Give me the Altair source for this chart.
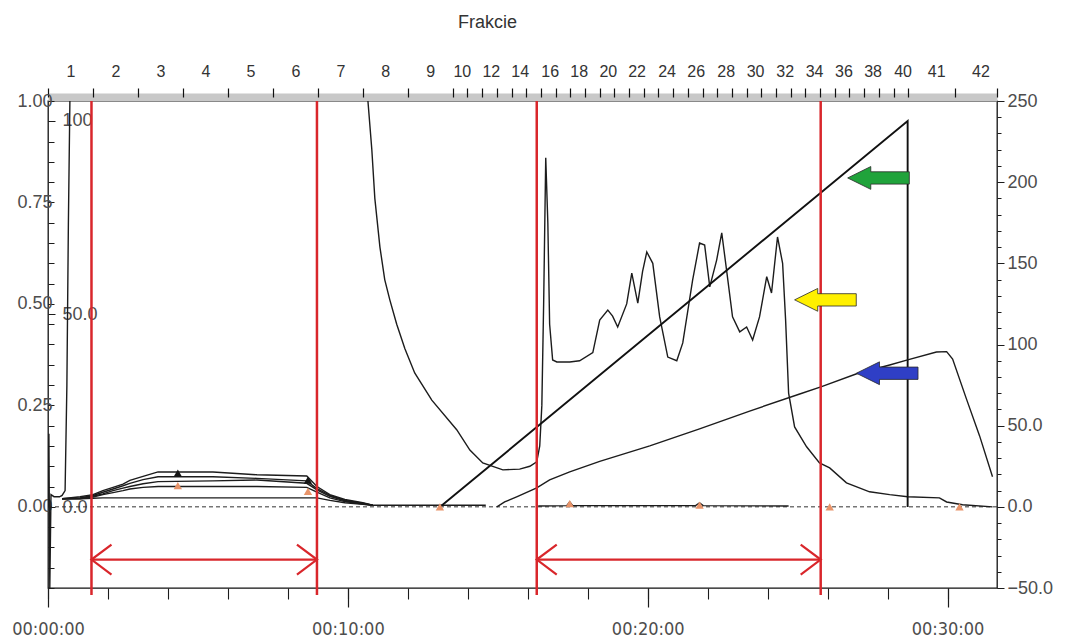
import altair as alt
import pandas as pd

# ---------------- data (time in minutes) ----------------
# main UV trace (left axis, AU)
uv_time = [0.40, 0.47, 0.57, 0.63, 0.68, 0.73, 0.77, 5.00, 10.60, 10.67,
           10.80, 10.90, 11.07, 11.23, 11.40, 11.63, 11.90, 12.23, 12.80, 13.63,
           14.07, 14.50, 15.17, 15.73, 16.07, 16.30, 16.40, 16.47, 16.53, 16.60,
           16.67, 16.73, 16.83, 16.97, 17.40, 17.73, 18.17, 18.40, 18.67, 18.83,
           19.00, 19.30, 19.47, 19.67, 19.83, 19.97, 20.17, 20.40, 20.67, 20.97,
           21.17, 21.50, 21.73, 21.90, 22.07, 22.30, 22.47, 22.63, 22.83, 23.07,
           23.30, 23.50, 23.73, 23.97, 24.13, 24.33, 24.50, 24.60, 24.70, 24.90,
           25.30, 25.73, 26.07, 26.63, 27.40, 28.07, 28.67, 29.73, 29.97, 30.50,
           31.50]
uv_abs = [0.025, 0.028, 0.040, 0.300, 0.700, 1.000, 1.150, 1.150, 1.150, 1.000,
          0.880, 0.760, 0.640, 0.560, 0.510, 0.450, 0.390, 0.330, 0.263, 0.190,
          0.140, 0.108, 0.091, 0.093, 0.100, 0.111, 0.150, 0.250, 0.500, 0.860,
          0.700, 0.450, 0.362, 0.357, 0.357, 0.360, 0.380, 0.460, 0.485, 0.470,
          0.443, 0.500, 0.576, 0.502, 0.580, 0.628, 0.600, 0.468, 0.369, 0.360,
          0.404, 0.559, 0.650, 0.645, 0.542, 0.608, 0.675, 0.584, 0.468, 0.431,
          0.443, 0.411, 0.468, 0.567, 0.527, 0.665, 0.600, 0.460, 0.280, 0.197,
          0.148, 0.108, 0.096, 0.059, 0.037, 0.030, 0.025, 0.022, 0.012, 0.005,
          0.000]

# injection spike at the very start
spike_time = [0.00, 0.03, 0.06, 0.10, 0.20, 0.40]
spike_abs = [0.00, 0.18, -0.20, 0.03, 0.025, 0.025]

# flow-through humps (several wavelengths)
hump_time = [0.47, 1.07, 1.50, 1.83, 2.17, 2.50, 2.73, 3.17, 3.67, 5.50,
             6.97, 8.63, 8.97, 9.40, 9.90, 10.50, 10.83]
hump_1 = [0.020, 0.025, 0.030, 0.040, 0.048, 0.056, 0.065, 0.075, 0.086, 0.086,
          0.079, 0.076, 0.050, 0.030, 0.018, 0.010, 0.004]
hump_2 = [0.020, 0.022, 0.028, 0.036, 0.044, 0.052, 0.058, 0.067, 0.074, 0.074,
          0.070, 0.064, 0.045, 0.028, 0.016, 0.009, 0.004]
hump_3 = [0.020, 0.021, 0.026, 0.032, 0.040, 0.046, 0.050, 0.057, 0.062, 0.064,
          0.066, 0.058, 0.042, 0.026, 0.015, 0.008, 0.004]
hump_4 = [0.020, 0.020, 0.024, 0.030, 0.035, 0.040, 0.044, 0.048, 0.050, 0.050,
          0.050, 0.048, 0.036, 0.022, 0.013, 0.007, 0.004]
hump_5 = [0.020, 0.020, 0.021, 0.022, 0.022, 0.022, 0.022, 0.022, 0.022, 0.022,
          0.022, 0.022, 0.022, 0.016, 0.010, 0.006, 0.004]

# baseline pieces
base1_time = [10.83, 12.00, 13.07, 14.60]
base1_abs = [0.004, 0.004, 0.004, 0.004]
base2_time = [16.35, 17.30, 17.40, 17.50, 21.60, 21.73, 21.85, 24.70]
base2_abs = [0.002, 0.003, 0.012, 0.003, 0.003, 0.010, 0.003, 0.002]

# gradient %B (inner axis)
grad_time = [13.07, 28.67, 28.67]
grad_pct = [0, 100, 0]

# conductivity mS/cm (right axis)
cond_time = [14.97, 15.23, 15.63, 16.30, 16.73, 17.40, 18.40, 20.07, 21.73, 23.40,
             25.07, 25.80, 26.97, 28.07, 28.67, 29.63, 29.97, 30.17, 30.63, 31.07,
             31.50]
cond_ms = [0.0, 3.0, 6.2, 11.7, 16.6, 21.5, 28.0, 37.5, 48.0, 59.0,
           69.5, 74.0, 82.0, 87.4, 90.5, 95.4, 95.6, 91.0, 66.5, 43.7,
           18.5]

# fraction / log markers
mark_time = [4.33, 8.67, 13.07, 17.40, 21.73, 26.07, 30.40, 4.33, 8.67]
mark_abs = [0.052, 0.038, 0.000, 0.008, 0.004, 0.000, 0.000, 0.083, 0.066]
mark_kind = ["o", "o", "o", "o", "o", "o", "o", "b", "b"]

# collection windows (red)
cut_time = [1.45, 8.97, 16.30, 25.77]
win_start = [1.45, 16.30]
win_end = [8.97, 25.77]
win_level = [-0.13, -0.13]

# annotation arrows (right-axis units)
arrow_time = [26.67, 24.90, 26.96]
arrow_val = [202.6, 127.5, 82.3]
arrow_col = ["green", "yellow", "blue"]

# fraction collector axis
frac_edges = [0, 1.5, 3.0, 4.5, 6.0, 7.5, 9.0, 10.5, 12.0, 13.5,
              13.99, 14.48, 14.97, 15.46, 15.95, 16.44, 16.93, 17.42, 17.91, 18.40,
              18.89, 19.38, 19.87, 20.36, 20.85, 21.34, 21.83, 22.32, 22.81, 23.30,
              23.79, 24.28, 24.77, 25.26, 25.75, 26.24, 26.73, 27.22, 27.71, 28.20,
              28.69, 30.26, 31.65]
frac_label_pos = [0.75, 2.25, 3.75, 5.25, 6.75, 8.25, 9.75, 11.25, 12.75,
                  13.80, 14.77, 15.73, 16.73, 17.70, 18.67, 19.63, 20.63, 21.60,
                  22.60, 23.58, 24.57, 25.55, 26.53, 27.50, 28.50, 29.62, 31.10]
frac_label_txt = ["1", "2", "3", "4", "5", "6", "7", "8", "9",
                  "10", "12", "14", "16", "18", "20", "22", "24", "26",
                  "28", "30", "32", "34", "36", "38", "40", "41", "42"]

time_major = [0, 10, 20, 30]
time_minor = [0, 2, 4, 6, 8, 10, 12, 14, 16, 18, 20, 22, 24, 26, 28, 30]
left_major = [0.0, 0.25, 0.5, 0.75, 1.0]
left_minor = [-0.2, -0.15, -0.1, -0.05, 0.0, 0.05, 0.1, 0.15, 0.2, 0.25, 0.3, 0.35,
              0.4, 0.45, 0.5, 0.55, 0.6, 0.65, 0.7, 0.75, 0.8, 0.85, 0.9, 0.95, 1.0]
right_major = [-50, 0, 50, 100, 150, 200, 250]
right_minor = [-50, -40, -30, -20, -10, 0, 10, 20, 30, 40, 50, 60, 70, 80, 90, 100,
               110, 120, 130, 140, 150, 160, 170, 180, 190, 200, 210, 220, 230, 240, 250]
inner_major = [0, 50, 100]

# ---------------- tables ----------------
def trace(name, t, v):
    return pd.DataFrame({"t": t, "v": v, "trace": name, "i": range(len(t))})

lines_df = pd.concat([
    trace("spike", spike_time, spike_abs),
    trace("uv", uv_time, uv_abs),
    trace("h1", hump_time, hump_1),
    trace("h2", hump_time, hump_2),
    trace("h3", hump_time, hump_3),
    trace("h4", hump_time, hump_4),
    trace("h5", hump_time, hump_5),
    trace("b1", base1_time, base1_abs),
    trace("b2", base2_time, base2_abs),
], ignore_index=True)
grad_df = trace("grad", grad_time, grad_pct)
cond_df = trace("cond", cond_time, cond_ms)
mark_df = pd.DataFrame({"t": mark_time, "v": mark_abs, "kind": mark_kind})
cut_df = pd.DataFrame({"t": cut_time})
win_df = pd.DataFrame({"t0": win_start, "t1": win_end, "v": win_level})
head_df = pd.DataFrame({"t": win_start + win_end, "v": win_level + win_level,
                        "side": ["L", "L", "R", "R"]})
arrow_df = pd.DataFrame({"t": arrow_time, "v": arrow_val, "c": arrow_col})

# ---------------- styling ----------------
W, H = 949, 487
FONT = "Liberation Sans, Arial, sans-serif"
NARROW = "Liberation Sans Narrow, DejaVu Sans Condensed, Liberation Sans, Arial"
RED = "#d9262b"
INK = "#1c1c1c"
LAB = "#4d4d4d"

def xs():
    return alt.Scale(domain=[0, 31.65], nice=False, zero=False)

def ys(lo, hi):
    return alt.Scale(domain=[lo, hi], nice=False, zero=False)

Y_LEFT = (-0.2, 1.0)
Y_RIGHT = (-50, 250)
Y_INNER = (-20.98, 105.18)

num_expr = "abs(datum.value) >= 100 ? format(datum.value, 'd') : format(datum.value, '.1f')"
frac_expr = "''"
for pos, lab in reversed(list(zip(frac_label_pos, frac_label_txt))):
    frac_expr = f"abs(datum.value - {pos}) < 0.005 ? '{lab}' : ({frac_expr})"

# baseline (dashed) + left minor ticks
baseline = alt.Chart(pd.DataFrame({"v": [0.0]})).mark_rule(
    color="#333", strokeWidth=1, strokeDash=[4, 3]
).encode(
    y=alt.Y("v:Q", scale=ys(*Y_LEFT),
            axis=alt.Axis(orient="left", offset=-6, values=left_minor, tickSize=6,
                          tickColor=INK, labels=False, domain=False, grid=False, title=None))
)

lines = alt.Chart(lines_df).mark_line(clip=True, strokeWidth=1.4, color=INK).encode(
    x=alt.X("t:Q", scale=xs(),
            axis=alt.Axis(orient="bottom", values=time_major,
                          labelExpr="'00:' + (datum.value < 10 ? '0' : '') + datum.value + ':00'",
                          tickSize=19, tickColor=INK, tickWidth=1.2, labelPadding=13,
                          labelFont=NARROW, labelFontSize=18, labelColor=LAB,
                          labelFlush=False, labelOverlap=False, domain=False, grid=False,
                          title=None)),
    y=alt.Y("v:Q", scale=ys(*Y_LEFT),
            axis=alt.Axis(orient="left", values=left_major, format=".2f", ticks=False,
                          tickSize=0, labelPadding=-4, labelFont=FONT, labelFontSize=18,
                          labelColor=LAB, domain=False, grid=False, title=None)),
    detail="trace:N",
    order="i:Q",
)

gradient = alt.Chart(grad_df).mark_line(clip=True, strokeWidth=1.9, color="#111").encode(
    x=alt.X("t:Q", scale=xs(), axis=None),
    y=alt.Y("v:Q", scale=ys(*Y_INNER),
            axis=alt.Axis(orient="right", offset=-W, values=inner_major, labelExpr=num_expr,
                          tickSize=7, tickColor=INK, labelPadding=7, labelFont=FONT,
                          labelFontSize=18, labelColor=LAB, domain=False, grid=False,
                          title=None)),
    order="i:Q",
)

conductivity = alt.Chart(cond_df).mark_line(clip=True, strokeWidth=1.4, color=INK).encode(
    x=alt.X("t:Q", scale=xs(), axis=None),
    y=alt.Y("v:Q", scale=ys(*Y_RIGHT),
            axis=alt.Axis(orient="right", values=right_major, labelExpr=num_expr,
                          tickSize=7, tickColor=INK, labelPadding=3, labelFont=FONT,
                          labelFontSize=18, labelColor=LAB, domain=False, grid=False,
                          title=None)),
    order="i:Q",
)

windows = alt.Chart(win_df).mark_rule(color=RED, strokeWidth=2.2).encode(
    x=alt.X("t0:Q", scale=xs(),
            axis=alt.Axis(orient="top", values=frac_label_pos, labelExpr=frac_expr,
                          ticks=False, tickSize=0, labelPadding=18, labelFont=FONT,
                          labelFontSize=16, labelColor="#333", labelFlush=False,
                          labelOverlap=False, domain=True, domainColor="#c8c8c8",
                          domainWidth=8, offset=4, grid=False,
                          title="Frakcie", titleFont=FONT, titleFontSize=18,
                          titleFontWeight="normal", titleColor="#333",
                          titleX=439, titleY=-75, titleAlign="center",
                          titleBaseline="middle")),
    x2="t1:Q",
    y=alt.Y("v:Q", scale=ys(*Y_LEFT), axis=None),
)

markers = alt.Chart(mark_df).mark_point(filled=True, shape="triangle-up", size=70,
                                        opacity=1).encode(
    x=alt.X("t:Q", scale=xs(),
            axis=alt.Axis(orient="top", values=frac_edges, labels=False, tickSize=9,
                          tickColor="#111", tickWidth=1.2, domain=False, offset=4,
                          grid=False, title=None)),
    y=alt.Y("v:Q", scale=ys(*Y_LEFT), axis=None),
    color=alt.Color("kind:N", scale=alt.Scale(domain=["o", "b"], range=["#e8946a", "#151515"]),
                    legend=None),
)

cuts = alt.Chart(cut_df).mark_rule(color=RED, strokeWidth=2.5, clip=False).encode(
    x=alt.X("t:Q", scale=xs(),
            axis=alt.Axis(orient="bottom", values=time_minor, labels=False, tickSize=11,
                          tickColor=INK, tickWidth=1.1, domain=False, grid=False,
                          title=None)),
    y=alt.value(0),
    y2=alt.value(H + 7),
)

heads = alt.Chart(head_df).mark_point(filled=False, strokeWidth=2.2, size=1600,
                                      opacity=1, color=RED).encode(
    x=alt.X("t:Q", scale=xs(), axis=None),
    y=alt.Y("v:Q", scale=ys(*Y_LEFT), axis=None),
    shape=alt.Shape("side:N", scale=alt.Scale(
        domain=["L", "R"],
        range=["M1,-0.75L0,0L1,0.75", "M-1,-0.75L0,0L-1,0.75"]), legend=None),
)

ARROW = "M0,0L0.75,-0.37L0.75,-0.2L2,-0.2L2,0.2L0.75,0.2L0.75,0.37Z"
arrows = alt.Chart(arrow_df).mark_point(filled=True, size=3800, opacity=1,
                                        stroke="#2a2a2a", strokeWidth=0.8,
                                        shape=ARROW).encode(
    x=alt.X("t:Q", scale=xs(), axis=None),
    y=alt.Y("v:Q", scale=ys(*Y_RIGHT),
            axis=alt.Axis(orient="right", values=right_minor, labels=False, tickSize=4,
                          tickColor=INK, domain=False, grid=False, title=None)),
    fill=alt.Fill("c:N", scale=alt.Scale(domain=["green", "yellow", "blue"],
                                         range=["#20a33b", "#fff000", "#2f3fc6"]),
                  legend=None),
)

chart = alt.layer(
    baseline, lines, gradient, conductivity, windows, markers, cuts, heads, arrows
).resolve_scale(
    y="independent"
).resolve_axis(
    x="independent", y="independent"
).properties(
    width=W, height=H,
    padding={"left": 48, "top": 101, "right": 71, "bottom": 52},
    autosize=alt.AutoSizeParams(type="none"),
    background="white",
).configure_view(
    stroke="#111", strokeWidth=1.3, fill="white"
)

chart.save("out.html", embed_options={"renderer": "svg", "actions": False})
